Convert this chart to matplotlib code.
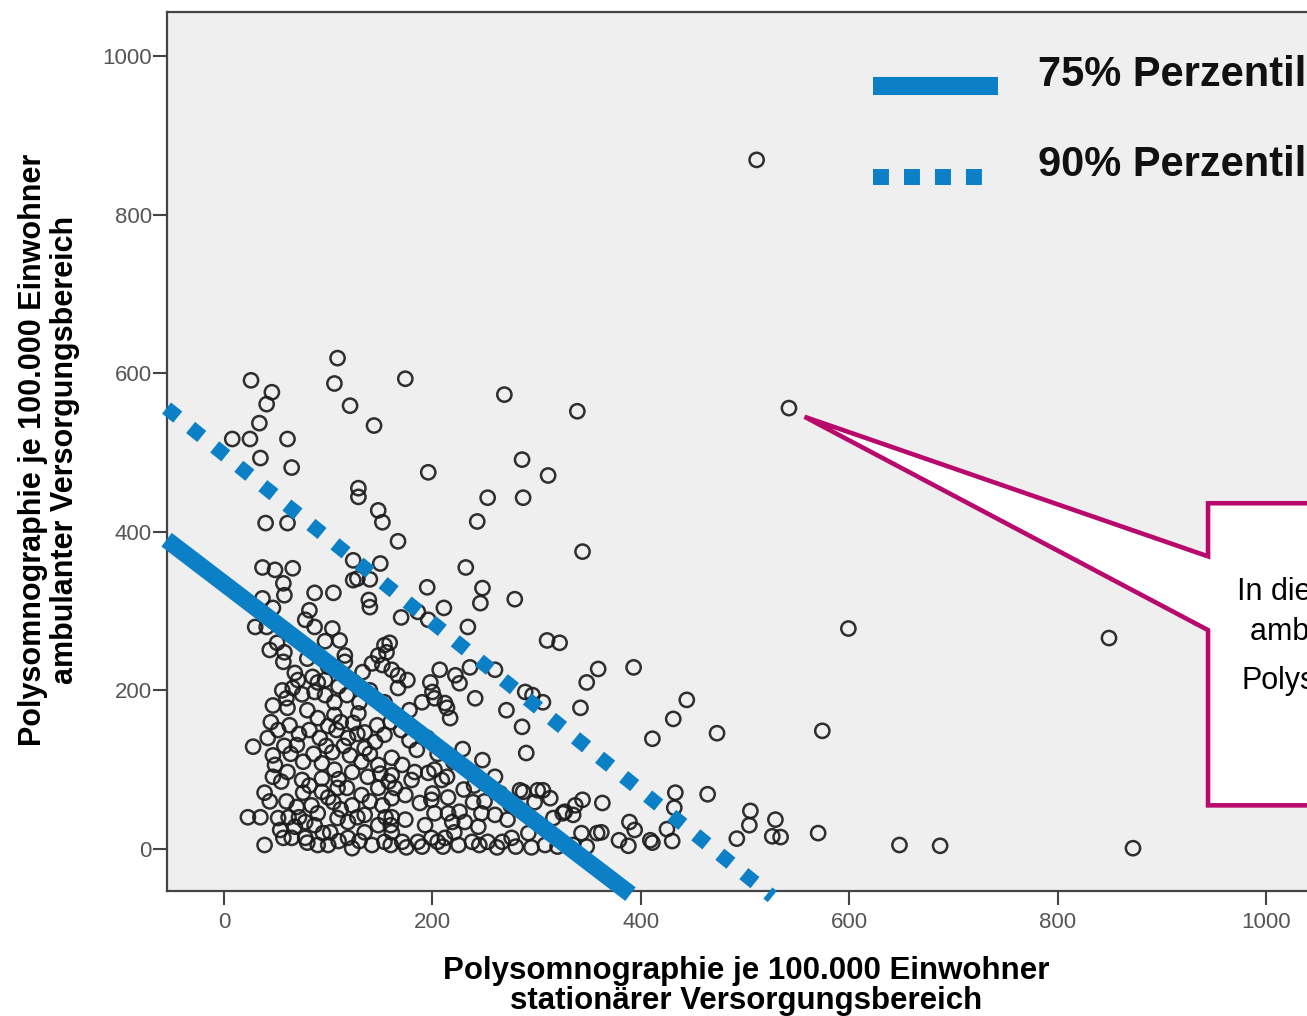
import matplotlib
matplotlib.use("Agg")
import matplotlib.pyplot as plt
from matplotlib.lines import Line2D
from matplotlib.patches import Polygon

plt.rcParams['font.family'] = ['Liberation Sans', 'DejaVu Sans']

# Polysomnographie je 100.000 Einwohner, stationaer (x) / ambulant (y)
stationaer = [
    511, 542, 599, 849, 574, 570, 648, 687, 872,
    529, 526, 534, 505, 504, 492, 464, 433, 432, 430,
    425, 411, 409, 394, 389, 388, 379, 363, 344, 337,
    335, 327, 316, 313, 306, 358, 362, 348, 308, 473,
    444, 431, 411, 393, 359, 348, 342, 306, 322, 310,
    269, 339, 286, 311, 253, 287, 243, 344,
    232, 195, 248, 246, 279, 211, 170, 186, 234, 196,
    159, 156, 207, 222, 226, 236, 260, 161, 167, 176,
    167, 198, 200, 202, 241, 289, 296, 190, 212, 154,
    26, 46, 41, 34, 8, 25, 61, 35, 65, 106,
    109, 121, 144, 174, 196, 129, 129, 148, 152, 167,
    40, 61, 124, 150, 37, 49, 66, 57, 58, 87,
    105, 124, 139, 140, 37, 82,
    271, 286, 290, 229, 248, 260, 287, 325, 343,
    47, 78, 30, 41, 87, 104, 97, 111, 51, 44,
    58, 57, 116, 116, 133, 148, 154, 142, 152, 68,
    71, 85, 97, 56, 66, 87, 97, 47, 106, 118,
    128, 140,
    28, 42, 47, 49, 47, 39, 23, 35, 39, 52,
    54, 61, 63, 61, 70, 76, 75, 76, 70, 68,
    65, 78, 87, 84, 94, 94, 94, 92, 90, 80,
    106, 108, 104, 106, 109, 105, 109, 102, 100, 119,
    119, 123, 118, 123, 121, 119, 124, 129, 135, 135,
    132, 138, 132, 135, 135, 142, 148, 152, 148, 148,
    145, 147, 78, 57, 123,
    178, 217, 214, 154, 178, 161, 171, 161, 180, 183,
    196, 202, 209, 214, 164, 174, 161, 188, 199, 202,
    215, 226, 239, 247, 260, 272, 284, 301, 298, 292,
    161, 174, 161, 171, 186, 199, 205, 212, 221, 238,
    253, 267, 276, 219, 231, 244, 193, 154,
    # overlapping points in the dense cluster
    45, 52, 58, 64, 72, 82, 86, 98, 100, 112,
    115, 128, 140, 150, 158, 110, 100, 90, 82, 60,
    55, 44, 62, 72, 95, 112, 128, 140, 155, 160,
    80, 90, 110, 130, 160, 175, 190, 210, 225, 245,
    262, 280, 295, 320, 335, 60, 75, 90, 100, 80,
    110, 125, 140, 130, 160, 170, 185, 195, 205, 220,
    200, 230, 215, 250, 265, 275, 240,
]
ambulant = [
    869, 556, 278, 266, 149, 20, 5, 4, 1,
    37, 16, 15, 48, 30, 13, 69, 71, 52, 10,
    25, 8, 11, 24, 34, 4, 11, 58, 62, 55,
    43, 47, 39, 64, 74, 20, 21, 3, 5, 146,
    188, 164, 139, 229, 227, 210, 178, 185, 260, 263,
    573, 552, 491, 471, 443, 443, 413, 375,
    355, 330, 329, 310, 315, 304, 292, 299, 280, 289,
    260, 248, 226, 219, 209, 229, 226, 226, 219, 213,
    203, 210, 198, 190, 190, 198, 194, 185, 184, 185,
    591, 576, 561, 537, 517, 517, 517, 493, 481, 587,
    619, 559, 534, 593, 475, 455, 444, 427, 412, 388,
    411, 411, 364, 360, 355, 352, 354, 335, 320, 323,
    323, 339, 314, 305, 316, 301,
    175, 154, 121, 126, 112, 91, 72, 45, 20,
    304, 289, 280, 280, 280, 278, 262, 263, 260, 251,
    248, 236, 244, 236, 223, 244, 257, 234, 232, 222,
    213, 217, 213, 200, 203, 198, 194, 181, 185, 194,
    341, 340,
    129, 140, 118, 106, 91, 71, 40, 40, 5, 39,
    24, 97, 156, 178, 131, 110, 87, 71, 53, 28,
    14, 14, 30, 55, 72, 89, 108, 140, 165, 175,
    169, 150, 122, 100, 77, 59, 39, 21, 5, 14,
    34, 55, 77, 97, 118, 140, 159, 171, 147, 127,
    110, 91, 68, 43, 21, 5, 30, 55, 77, 106,
    135, 156, 34, 14, 1,
    175, 165, 178, 144, 137, 115, 106, 93, 87, 97,
    96, 100, 87, 91, 77, 68, 64, 58, 62, 45,
    45, 47, 59, 45, 43, 37, 74, 74, 59, 20,
    40, 37, 21, 9, 9, 14, 9, 14, 21, 9,
    9, 9, 14, 34, 34, 28, 30, 9,
    # overlapping points in the dense cluster
    160, 150, 130, 120, 145, 150, 120, 130, 155, 160,
    130, 145, 120, 95, 85, 88, 65, 45, 80, 60,
    85, 60, 40, 40, 20, 50, 40, 60, 40, 30,
    8, 5, 10, 10, 5, 2, 3, 3, 5, 5,
    2, 3, 2, 3, 5, 190, 195, 210, 230, 240,
    205, 210, 200, 185, 160, 150, 125, 140, 120, 110,
    70, 75, 65, 60, 70, 55, 80,
]

# percentile lines (start / end in data units)
p75_x = [-55, 390]
p75_y = [390, -57]
p90_x = [-55, 526]
p90_y = [556, -60]

legend_labels = ['75% Perzentil', '90% Perzentil']
yticks = [0, 200, 400, 600, 800, 1000]
xticks = [0, 200, 400, 600, 800, 1000]

blue = '#0b80c6'
magenta = '#b8096c'
W, H = 1307, 1016

fig = plt.figure(figsize=(13.07, 10.16), dpi=100)
fig.patch.set_facecolor('white')
ax = fig.add_axes([167 / W, 125 / H, 0.95, 879 / H])
ax.set_facecolor('#efefef')
ax.set_xlim(-54.6, -54.6 + 0.95 * W / 1.0425)
ax.set_ylim(-53, 1055.5)

ax.scatter(stationaer, ambulant, s=105, facecolors='none', edgecolors='#1a1a1a',
           linewidths=1.8, alpha=0.9, zorder=3)

ax.plot(p75_x, p75_y, color=blue, lw=12.3, solid_capstyle='butt', clip_on=False, zorder=4)
ax.plot(p90_x, p90_y, color=blue, lw=10.3, ls=(0, (1, 1.16)), dash_capstyle='butt',
        clip_on=False, zorder=4)

ax.set_xticks(xticks)
ax.set_yticks(yticks)
ax.tick_params(axis='both', labelsize=16, labelcolor='#555555', color='#444444',
               width=1.5, length=10)
ax.tick_params(axis='y', pad=1)
ax.tick_params(axis='x', pad=5)
for side in ['left', 'bottom', 'top', 'right']:
    ax.spines[side].set_color('#444444')
    ax.spines[side].set_linewidth(1.6)

fig.text(746 / W, 1 - 986 / H,
         'Polysomnographie je 100.000 Einwohner\nstationärer Versorgungsbereich',
         ha='center', va='center', fontsize=22.5, fontweight='bold', linespacing=1.02)
fig.text(49 / W, 1 - 450 / H,
         'Polysomnographie je 100.000 Einwohner\nambulanter Versorgungsbereich',
         ha='center', va='center', rotation=90, fontsize=22, fontweight='bold',
         linespacing=1.05)

# legend (drawn by hand so the keys sit slightly below the text, as in the original)
fig.add_artist(Line2D([873 / W, 998 / W], [1 - 86 / H] * 2, transform=fig.transFigure,
                      color=blue, lw=13, solid_capstyle='butt'))
fig.add_artist(Line2D([873 / W, 984 / W], [1 - 177 / H] * 2, transform=fig.transFigure,
                      color=blue, lw=11.5, ls=(0, (1, 0.94)), dash_capstyle='butt'))
for lbl, ly in zip(legend_labels, [75, 165]):
    fig.text(1038 / W, 1 - ly / H, lbl, ha='left', va='center', fontsize=30,
             fontweight='bold', color='#111111')

# callout box pointing to the outlier
callout = Polygon([(944, 436), (1200, 436), (1200, 55), (944, 55), (944, 276),
                   (557, 545), (944, 369)], closed=True, facecolor='white',
                  edgecolor=magenta, lw=3.3, joinstyle='miter', clip_on=False, zorder=5)
ax.add_patch(callout)
box_lines = ['In diesem Versorgungsbereich', 'ambulant und stationär',
             'Polysomnographien']
box_x = [1237, 1250, 1241]
box_y = [600, 640, 689]
for txt, bx, by in zip(box_lines, box_x, box_y):
    fig.text(bx / W, 1 - by / H, txt, ha='left', va='baseline', fontsize=22,
             color='black', zorder=6)

fig.savefig('out.png', dpi=100, facecolor='white')
